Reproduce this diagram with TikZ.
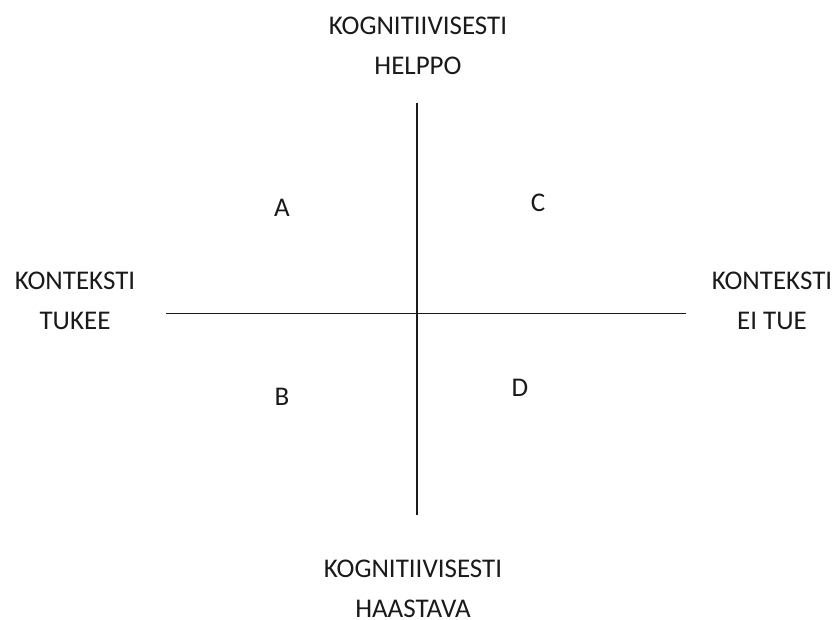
\documentclass[tikz,border=0pt]{standalone}
\usepackage{fontspec}
\setmainfont{Carlito}
\usetikzlibrary{positioning}
\definecolor{inkgray}{HTML}{1A1A1A}
\tikzset{
  axis/.style={draw=inkgray, line width=1.6pt},
  pole/.style={align=center, inner sep=0pt, text=inkgray,
               font=\fontsize{27}{40}\selectfont},
  quad/.style={inner sep=0pt, text=inkgray, font=\fontsize{27}{40}\selectfont},
}

\begin{document}
\begin{tikzpicture}[x=1pt, y=-1pt]
  \useasboundingbox (0,0) rectangle (838,619);
  % axes
  \coordinate (vtop) at (417,103);
  \coordinate (vbot) at (417,515);
  \coordinate (hleft) at (166,313.5);
  \coordinate (hright) at (686,313.5);
  \draw[axis] (vtop) -- (vbot);
  \draw[axis] (hleft) -- (hright);
  % end labels
  \node[pole] (easy) at (418,46) {KOGNITIIVISESTI\\HELPPO};
  \node[pole] (hard) at (413,589) {KOGNITIIVISESTI\\HAASTAVA};
  \node[pole] (ctxyes) at (75,301) {KONTEKSTI\\TUKEE};
  \node[pole] (ctxno) at (772,301) {KONTEKSTI\\EI TUE};
  % quadrants
  \foreach \q/\x/\y in {A/282/208, B/282/397, C/538/203, D/520/388}
    \node[quad] (q\q) at (\x,\y) {\q};
\end{tikzpicture}
\end{document}
